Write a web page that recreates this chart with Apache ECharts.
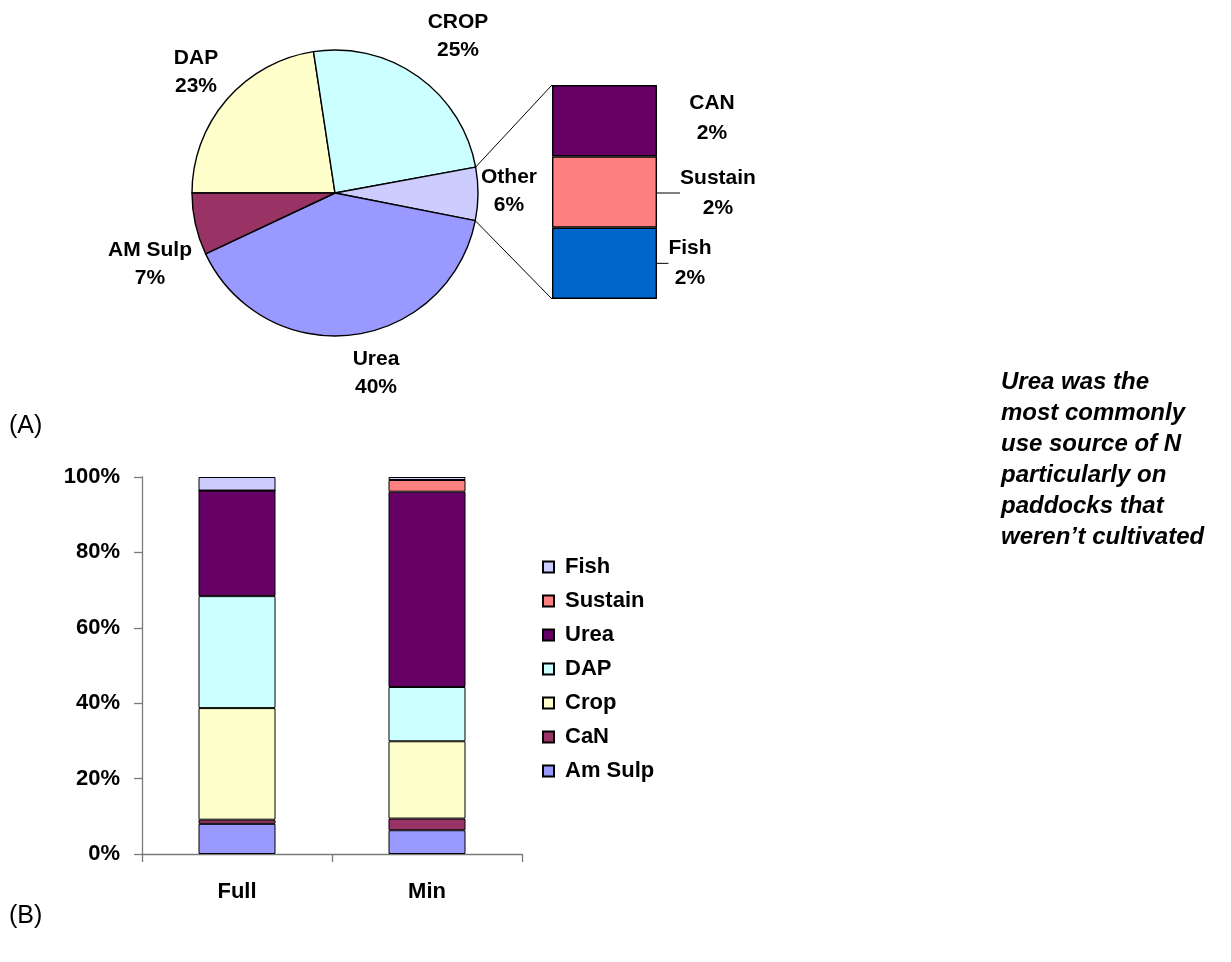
<!DOCTYPE html>
<html><head><meta charset="utf-8">
<script src="https://cdn.jsdelivr.net/npm/echarts@6/dist/echarts.min.js"></script>
<style>html,body{margin:0;padding:0;background:#fff}#c{width:1231px;height:962px}</style>
</head><body><div id="c"></div>
<script>
// ---- Data: pie (A) ----
const pieNames = ['DAP', 'CROP', 'Other', 'Urea', 'AM Sulp'];
const pieValues = [22.6, 24.5, 6.0, 39.9, 7.0];
// ---- Data: "Other" breakdown ----
const otherNames = ['Fish', 'Sustain', 'CAN'];
const otherValues = [2, 2, 2];
// ---- Data: stacked bar (B) ----
const barCategories = ['Full', 'Min'];
const seriesNames = ['Am Sulp', 'CaN', 'Crop', 'DAP', 'Urea', 'Sustain', 'Fish'];
const amSulp  = [8.0, 6.3];
const caN     = [1.1, 3.1];
const crop    = [29.6, 20.5];
const dap     = [29.7, 14.4];
const urea    = [28.0, 51.8];
const sustain = [0.0, 3.1];
const fish    = [3.6, 0.8];
const legendOrder = ['Fish', 'Sustain', 'Urea', 'DAP', 'Crop', 'CaN', 'Am Sulp'];
const noteLines = ['Urea was the', 'most commonly', 'use source of N', 'particularly on', 'paddocks that', 'weren\u2019t cultivated'];

// ---- Styles ----
const FONT = '"Liberation Sans", Arial, sans-serif';
const pieColors = ['#FFFFCC', '#CCFFFF', '#CCCCFF', '#9999FF', '#993366'];
const otherColors = ['#0066CC', '#FF8080', '#660066'];
const barColors = ['#9999FF', '#993366', '#FFFFCC', '#CCFFFF', '#660066', '#FF8080', '#CCCCFF'];
const PIE = {cx: 335, cy: 193, r: 143};
const BOX = {left: 552, top: 85, width: 105, height: 214};
const pieLabelOffsets = [[-139, -121], [123, -157], [174, -2], [41, 180], [-185, 71]];
const otherLabelOffsets = [[33, 0], [61, 1], [55, -2]];
const otherLabelLine = [true, true, false];

const chart = echarts.init(document.getElementById('c'), null, {renderer: 'canvas'});
const barData = [amSulp, caN, crop, dap, urea, sustain, fish];

const labelText = {fontFamily: FONT, fontSize: 21, fontWeight: 'bold', color: '#000'};
const axisText = {fontFamily: FONT, fontSize: 22, fontWeight: 'bold', color: '#000'};

const series = [];
series.push({
  type: 'pie', name: 'pieA', center: [PIE.cx, PIE.cy], radius: PIE.r,
  startAngle: 180, clockwise: true, avoidLabelOverlap: false, silent: true,
  data: pieNames.map((n, i) => ({name: n, value: pieValues[i], itemStyle: {color: pieColors[i]}})),
  itemStyle: {borderColor: '#000', borderWidth: 1.4},
  label: Object.assign({show: true, position: 'outside', lineHeight: 28, align: 'center',
    formatter: p => p.name + '\n' + Math.round(p.value) + '%'}, labelText),
  labelLine: {show: false},
  labelLayout: p => ({x: PIE.cx + pieLabelOffsets[p.dataIndex][0], y: PIE.cy + pieLabelOffsets[p.dataIndex][1], align: 'center', verticalAlign: 'middle'}),
  emphasis: {disabled: true}
});
otherNames.forEach((n, i) => {
  series.push({
    type: 'bar', name: 'other-' + n, xAxisIndex: 0, yAxisIndex: 0, stack: 'other',
    barWidth: '100%', silent: true,
    data: [otherValues[i]],
    itemStyle: {color: otherColors[i], borderColor: '#000', borderWidth: 1.4},
    label: Object.assign({show: true, position: 'right', lineHeight: 30, align: 'center',
      formatter: p => n + '\n' + p.value + '%'}, labelText),
    labelLine: {show: otherLabelLine[i], lineStyle: {color: '#000', width: 1}},
    labelLayout: p => ({x: p.rect.x + p.rect.width + otherLabelOffsets[i][0], y: p.rect.y + p.rect.height / 2 + otherLabelOffsets[i][1], align: 'center', verticalAlign: 'middle'}),
    emphasis: {disabled: true}
  });
});
seriesNames.forEach((n, i) => {
  series.push({
    type: 'bar', name: n, xAxisIndex: 1, yAxisIndex: 1, stack: 'total',
    barWidth: 77, silent: true,
    data: barData[i],
    itemStyle: {color: barColors[i], borderColor: '#000', borderWidth: 1},
    emphasis: {disabled: true}
  });
});

const option = {
  animation: false,
  backgroundColor: '#fff',
  title: [
    {text: '(A)', left: 9, top: 414, padding: 0, textStyle: {fontFamily: FONT, fontSize: 25, fontWeight: 'normal', color: '#000'}},
    {text: '(B)', left: 9, top: 904, padding: 0, textStyle: {fontFamily: FONT, fontSize: 25, fontWeight: 'normal', color: '#000'}},
    {text: noteLines.join('\n'), left: 1001, top: 367, padding: 0,
      textStyle: {fontFamily: FONT, fontSize: 24, fontWeight: 'bold', fontStyle: 'italic', color: '#000', lineHeight: 31}}
  ],
  legend: {
    orient: 'vertical', left: 542, top: 556, padding: 0,
    itemWidth: 11, itemHeight: 11, itemGap: 12, icon: 'rect',
    data: legendOrder, selectedMode: false,
    textStyle: Object.assign({padding: [0, 0, 0, 6]}, axisText)
  },
  grid: [
    {left: BOX.left, top: BOX.top, width: BOX.width, height: BOX.height},
    {left: 142, top: 477, width: 380, height: 377}
  ],
  xAxis: [
    {type: 'category', gridIndex: 0, data: ['Other'], show: false},
    {type: 'category', gridIndex: 1, data: barCategories,
      axisLine: {lineStyle: {color: '#7a7a7a', width: 1.3}},
      axisTick: {show: true, length: 8, inside: false, lineStyle: {color: '#7a7a7a', width: 1.3}},
      axisLabel: Object.assign({margin: 27}, axisText)}
  ],
  yAxis: [
    {type: 'value', gridIndex: 0, min: 0, max: 6, show: false},
    {type: 'value', gridIndex: 1, min: 0, max: 100, interval: 20,
      axisLine: {show: true, lineStyle: {color: '#7a7a7a', width: 1.3}},
      axisTick: {show: true, length: 8, inside: false, lineStyle: {color: '#7a7a7a', width: 1.3}},
      splitLine: {show: false},
      axisLabel: Object.assign({margin: 22, padding: [3, 0, 0, 0], formatter: '{value}%'}, axisText)}
  ],
  series: series
};
chart.setOption(option);

// Connector lines from the "Other" slice to the breakdown box, from the data and the box axis
const total = pieValues.reduce((a, b) => a + b, 0);
const aStart = 180 - (pieValues[0] + pieValues[1]) / total * 360;
const aEnd = aStart - pieValues[2] / total * 360;
const rad = d => d * Math.PI / 180;
const yTop = chart.convertToPixel({yAxisIndex: 0}, otherValues.reduce((a, b) => a + b, 0));
const yBot = chart.convertToPixel({yAxisIndex: 0}, 0);
chart.setOption({
  graphic: [
    {type: 'line', silent: true, shape: {x1: PIE.cx + PIE.r * Math.cos(rad(aStart)), y1: PIE.cy - PIE.r * Math.sin(rad(aStart)), x2: BOX.left, y2: yTop}, style: {stroke: '#000', lineWidth: 1}},
    {type: 'line', silent: true, shape: {x1: PIE.cx + PIE.r * Math.cos(rad(aEnd)), y1: PIE.cy - PIE.r * Math.sin(rad(aEnd)), x2: BOX.left, y2: yBot}, style: {stroke: '#000', lineWidth: 1}}
  ]
});
</script>
</body></html>
